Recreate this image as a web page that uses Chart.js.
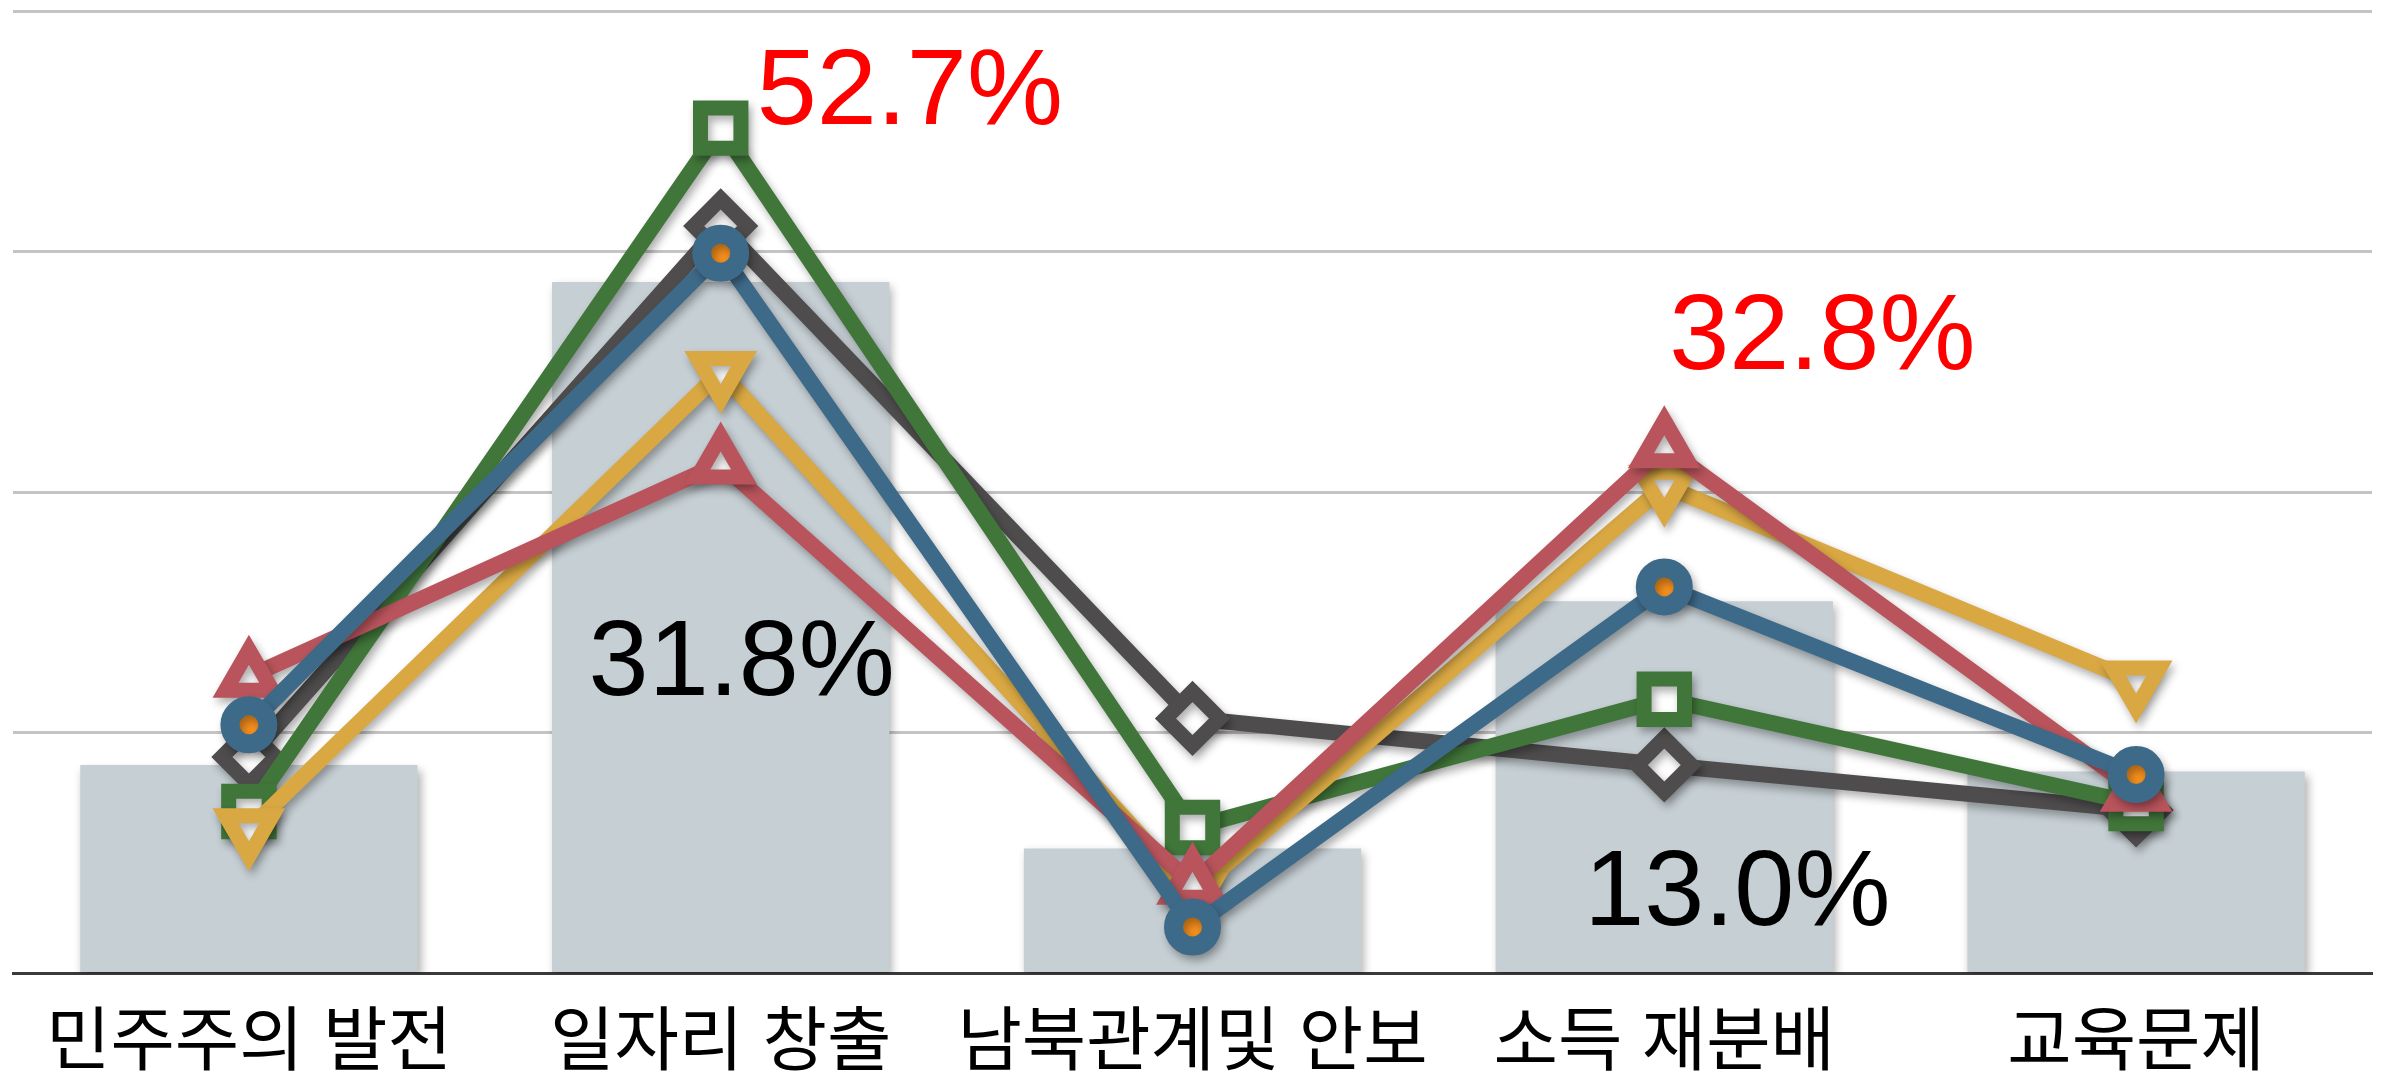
<!DOCTYPE html>
<html lang="ko">
<head>
<meta charset="utf-8">
<script src="https://cdn.jsdelivr.net/npm/chart.js@4"></script>
<style>
  html, body { margin: 0; padding: 0; background: #fff; }
  #wrap { width: 2385px; height: 1072px; }
</style>
</head>
<body>
<div id="wrap"><canvas id="mainChart" width="2385" height="1072"></canvas></div>
<script>
// categories
const labels = ["민주주의 발전", "일자리 창출", "남북관계및 안보", "소득 재분배", "교육문제"];

// overall (bars)
const totalValues = [13.0, 43.1, 7.8, 23.2, 12.6];

// line series
const grayValues   = [13.5, 46.6, 15.9, 13.0, 10.2];
const greenValues  = [10.1, 52.7, 9.1, 17.1, 10.6];
const yellowValues = [9.0, 37.5, 5.0, 30.4, 18.2];
const redValues    = [18.5, 31.8, 5.6, 32.8, 11.4];
const blueValues   = [15.5, 44.9, 2.9, 24.1, 12.4];

// axis
const yMax = 60;
const yStep = 15;

// callout texts
const calloutTexts  = ["52.7%", "32.8%", "31.8%", "13.0%"];
const calloutIndex  = [1, 3, 1, 3];
const calloutValues = [52.7, 32.8, 31.8, 13.0];
const calloutColors = ["#ff0000", "#ff0000", "#000000", "#000000"];

const FONT = '"Liberation Sans", "Noto Sans CJK KR", sans-serif';

// ============================
// shadow for lines and bars
// ============================
const shadowPlugin = {
  id: "softShadow",
  beforeDatasetDraw(chart) {
    const ctx = chart.ctx;
    ctx.save();
    ctx.shadowColor = "rgba(0,0,0,0.32)";
    ctx.shadowBlur = 9;
    ctx.shadowOffsetX = 3;
    ctx.shadowOffsetY = 5;
  },
  afterDatasetDraw(chart) {
    chart.ctx.restore();
  }
};

// ============================
// percent callouts
// ============================
const offsets = [[36, -34, "left"], [158, -108, "center"], [21, 202, "center"], [73, 130, "center"]];

const calloutPlugin = {
  id: "callouts",
  afterDatasetsDraw(chart) {
    const { ctx, scales } = chart;
    ctx.save();
    ctx.font = "108px " + FONT;
    ctx.textBaseline = "middle";
    calloutTexts.forEach((txt, i) => {
      const x = scales.x.getPixelForValue(calloutIndex[i]) + offsets[i][0];
      const y = scales.y.getPixelForValue(calloutValues[i]) + offsets[i][1];
      ctx.textAlign = offsets[i][2];
      ctx.fillStyle = calloutColors[i];
      ctx.fillText(txt, x, y);
    });
    ctx.restore();
  }
};

function lineSet(label, data, color, style, order, extra) {
  return Object.assign({
    type: "line",
    label,
    data,
    borderColor: color,
    borderWidth: 16,
    tension: 0,
    fill: false,
    clip: false,
    pointStyle: style,
    pointRadius: 27,
    pointBorderWidth: 15,
    pointBorderColor: color,
    pointBackgroundColor: "#ffffff",
    order
  }, extra || {});
}

const ctx = document.getElementById("mainChart").getContext("2d");

new Chart(ctx, {
  data: {
    labels,
    datasets: [
      {
        type: "bar",
        label: "전체",
        data: totalValues,
        backgroundColor: "rgb(198,207,212)",
        borderWidth: 0,
        categoryPercentage: 1.0,
        barPercentage: 0.715,
        order: 10
      },
      lineSet("gray", grayValues, "#4e4c4c", "rectRot", 5),
      lineSet("green", greenValues, "#41763a", "rect", 4, { pointRadius: 28.6 }),
      lineSet("yellow", yellowValues, "#d9a843", "triangle", 3, { pointRotation: 180 }),
      lineSet("red", redValues, "#b9545c", "triangle", 2),
      lineSet("blue", blueValues, "#3e6a8a", "circle", 1, {
        pointRadius: 19,
        pointBorderWidth: 19,
        pointBackgroundColor: "#f7901e"
      })
    ]
  },
  options: {
    responsive: false,
    animation: false,
    layout: { autoPadding: false, padding: { left: 13, right: 13, top: 11, bottom: -45 } },
    plugins: {
      legend: { display: false },
      tooltip: { enabled: false }
    },
    scales: {
      x: {
        offset: true,
        grid: { display: false, drawTicks: false },
        border: { display: true, color: "#3a3a3a", width: 3 },
        ticks: {
          color: "#000",
          padding: 42,
          autoSkip: false,
          maxRotation: 0,
          minRotation: 0,
          font: { size: 70, family: FONT, lineHeight: 0.85 }
        }
      },
      y: {
        min: 0,
        max: yMax,
        ticks: { display: false, stepSize: yStep },
        border: { display: false },
        grid: {
          drawTicks: false,
          lineWidth: 3,
          color: (c) => (c.tick && c.tick.value === 0 ? "rgba(0,0,0,0)" : "#c4c4c4")
        }
      }
    }
  },
  plugins: [shadowPlugin, calloutPlugin]
});
</script>
</body>
</html>
